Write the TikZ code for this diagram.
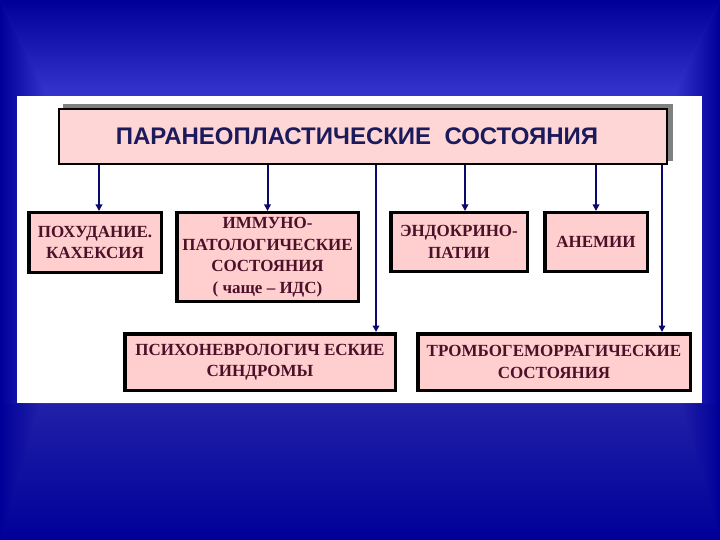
\documentclass[tikz,border=0pt]{standalone}
\usepackage{fontspec}
\setmainfont{Liberation Serif}
\newfontfamily\headfont{Liberation Sans}
\usetikzlibrary{positioning,arrows.meta,calc}
\definecolor{bgdark}{RGB}{0,0,153}
\definecolor{bglight}{RGB}{51,51,204}
\definecolor{bgmid}{RGB}{32,32,168}
\definecolor{boxpink}{RGB}{255,206,206}
\definecolor{headpink}{RGB}{255,214,214}
\definecolor{boxtext}{RGB}{76,16,40}
\definecolor{headtext}{RGB}{26,26,92}
\definecolor{arrnavy}{RGB}{10,10,110}
\definecolor{shadowgray}{RGB}{128,128,128}
\tikzset{
  headbox/.style={draw=black, line width=2pt, fill=headpink, inner sep=0pt, font=\headfont\fontsize{24}{27}\selectfont\bfseries, text=headtext},
  cbox/.style={draw=black, line width=3.5pt, fill=boxpink, align=center, inner sep=0pt, font=\fontsize{17}{21.5}\selectfont\bfseries, text=boxtext},
  arr/.style={-{Triangle[length=6.5pt,width=6.5pt]}, line width=2pt, draw=arrnavy},
}

\begin{document}
\begin{tikzpicture}[x=1pt,y=-1pt]
  % slide background
  \useasboundingbox (0,0) rectangle (720,540);
  \fill[bglight] (0,0) rectangle (720,540);
  \shade[top color=bgdark, bottom color=bglight] (0,0) -- (720,0) -- (675,90) -- (45,90) -- cycle;
  \shade[left color=bgdark, right color=bglight] (0,0) -- (45,90) -- (45,404) -- (0,404) -- cycle;
  \shade[right color=bgdark, left color=bglight] (720,0) -- (675,90) -- (675,404) -- (720,404) -- cycle;
  \shade[top color=bgmid, bottom color=bgdark] (0,404) rectangle (720,540);
  \shade[left color=bgdark, right color=bgmid] (0,404) -- (40,404) -- (0,540) -- cycle;
  \shade[right color=bgdark, left color=bgmid] (720,404) -- (680,404) -- (720,540) -- cycle;
  \fill[white] (17,96) rectangle (702,403);

  % header
  \fill[shadowgray] (63,104) rectangle (673,161);
  \node[headbox, minimum width=608pt, minimum height=55pt] (title) at (363,136.5)
    {\hspace*{-12pt}ПАРАНЕОПЛАСТИЧЕСКИЕ\ \ СОСТОЯНИЯ};

  % first row
  \node[cbox, minimum width=132.5pt, minimum height=59.5pt] (pohud) at (95,242.5)
    {ПОХУДАНИЕ.\\КАХЕКСИЯ};
  \node[cbox, minimum width=181.5pt, minimum height=88.5pt] (immuno) at (267.5,257)
    {ИММУНО-\\ПАТОЛОГИЧЕСКИЕ\\СОСТОЯНИЯ\\( чаще – ИДС)};
  \node[cbox, minimum width=136.5pt, minimum height=58.5pt] (endo) at (459,242)
    {ЭНДОКРИНО-\\ПАТИИ};
  \node[cbox, minimum width=102.5pt, minimum height=58.5pt] (anem) at (596,242)
    {АНЕМИИ};

  % second row
  \node[cbox, minimum width=270.5pt, minimum height=56.5pt] (psycho) at (260,362)
    {ПСИХОНЕВРОЛОГИЧ ЕСКИЕ\\СИНДРОМЫ};
  \node[cbox, minimum width=272.5pt, minimum height=56.5pt] (trombo) at (554,362)
    {ТРОМБОГЕМОРРАГИЧЕСКИЕ\\СОСТОЯНИЯ};

  % connectors
  \coordinate (psyin) at ($(psycho.north east)+(-21,0)$);
  \coordinate (tromin) at ($(trombo.north east)+(-30,0)$);
  \draw[arr] ([xshift=4pt]pohud.north |- title.south) -- ([xshift=4pt]pohud.north);
  \draw[arr] (immuno.north |- title.south) -- (immuno.north);
  \draw[arr] ([xshift=6pt]endo.north |- title.south) -- ([xshift=6pt]endo.north);
  \draw[arr] (anem.north |- title.south) -- (anem.north);
  \draw[arr] (psyin |- title.south) -- (psyin);
  \draw[arr] (tromin |- title.south) -- (tromin);
\end{tikzpicture}
\end{document}
